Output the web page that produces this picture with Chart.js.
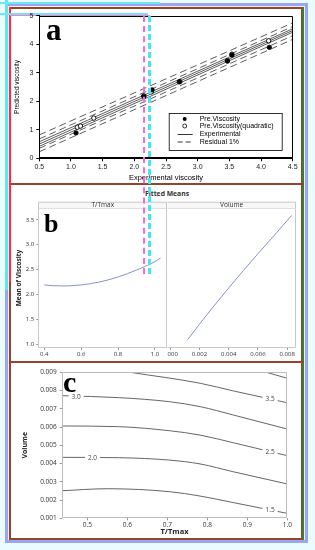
<!DOCTYPE html>
<html><head><meta charset="utf-8">
<script src="https://cdn.jsdelivr.net/npm/chart.js@4.4.1/dist/chart.umd.min.js"></script>
<style>
html,body{margin:0;padding:0;}
body{width:315px;height:550px;position:relative;overflow:hidden;background:#eafcff;font-family:"Liberation Sans",Arial,sans-serif;}
.abs{position:absolute;box-sizing:border-box;}
canvas{position:absolute;}
.lbl{position:absolute;font-family:"Liberation Serif","DejaVu Serif",serif;font-weight:bold;color:#000;line-height:1;}
</style></head><body>
<div class="abs" style="left:5px;top:3px;width:303px;height:540px;border:3px solid #98a8ee;background:#fde9f5;"></div>
<div class="abs" style="left:9px;top:7px;width:294px;height:533px;border:2px solid #93442a;background:#fff;"></div>
<div class="abs" style="left:302px;top:7px;width:2px;height:533px;background:#3f7d2e;"></div>
<div class="abs" style="left:9px;top:183px;width:295px;height:2px;background:#93442a;"></div>
<div class="abs" style="left:9px;top:361px;width:295px;height:2px;background:#93442a;"></div>
<div class="abs" style="left:9px;top:7px;width:2px;height:275px;background:#ff2a4a;"></div>
<div class="abs" style="left:5px;top:0px;width:3px;height:290px;background:#5fe6ee;"></div>
<div class="abs" style="left:0px;top:2px;width:160px;height:2px;background:#6ee8f0;"></div>
<div class="abs" style="left:0px;top:13px;width:148px;height:2px;background:#6ee8f0;"></div>
<div class="abs" style="left:10px;top:15px;width:140px;height:1px;background:#ff7ad0;"></div>

<canvas id="ca" width="293" height="175" style="left:10px;top:9px;"></canvas>
<div class="lbl" style="left:46px;top:14px;font-size:31px;">a</div>

<div class="abs" style="left:0;top:189px;width:334px;text-align:center;font:bold 6.8px 'Open Sans',sans-serif;color:#333;">Fitted Means</div>
<canvas id="cb1" width="158" height="177" style="left:10px;top:185px;"></canvas>
<canvas id="cb2" width="136" height="177" style="left:167px;top:185px;"></canvas>
<div class="lbl" style="left:44px;top:211px;font-size:26px;">b</div>

<canvas id="cc" width="293" height="176" style="left:10px;top:363px;"></canvas>
<div class="lbl" style="left:63px;top:367px;font-size:30px;">c</div>

<div class="abs" style="left:143px;top:16px;width:0;height:258px;border-left:2px dashed #ff66dd;"></div>
<div class="abs" style="left:148px;top:16px;width:0;height:258px;border-left:3px dashed #44e6f0;"></div>

<script>
// ---------- data: panel a ----------
const aXTicks=[0.5,1,1.5,2,2.5,3,3.5,4,4.5];
const aYTicks=[0,1,2,3,4,5];
const preX=[1.08,2.15,2.28,2.71,3.47,3.54,4.13];
const preY=[0.89,2.17,2.40,2.68,3.41,3.62,3.89];
const quadX=[1.10,1.15,1.36,2.15,2.27,2.72,3.47,3.54,4.12];
const quadY=[1.09,1.13,1.41,2.19,2.33,2.69,3.42,3.65,4.12];
const lineX=[0.5,4.5];
const expY=[0.50,4.48];
const fitHiY=[0.58,4.54];
const fitLoY=[0.42,4.42];
const resHiY=[0.82,4.75];
const resHi2Y=[0.68,4.62];
const resLo2Y=[0.35,4.30];
const resLoY=[0.23,4.17];
const aLegend=['Pre.Viscosity','Pre.Viscosity(quadratic)','Experimental','Residual 1%'];

// ---------- data: panel b ----------
const bYTicks=[1.0,1.5,2.0,2.5,3.0,3.5];
const bLeftTicks=[0.4,0.6,0.8,1.0];
const bRightTicks=[0,0.002,0.004,0.006,0.008];
const tX=[0.40,0.45,0.50,0.55,0.60,0.70,0.80,0.90,1.00,1.03];
const tY=[2.19,2.175,2.17,2.175,2.19,2.25,2.35,2.49,2.66,2.73];
const vX=[0.0012,0.002,0.003,0.004,0.005,0.006,0.007,0.0083];
const vY=[1.09,1.40,1.77,2.13,2.48,2.82,3.15,3.59];

// ---------- data: panel c ----------
const cXTicks=[0.5,0.6,0.7,0.8,0.9,1.0];
const cYTicks=[0.001,0.002,0.003,0.004,0.005,0.006,0.007,0.008,0.009];
const contourLevels=['1.5','2.0','2.5','3.0','3.5','4.0'];
const c15X=[0.436,0.55,0.705,0.782,0.865,1.0], c15Y=[0.00251,0.00262,0.00246,0.00222,0.00186,0.00127];
const c20X=[0.436,0.58,0.705,0.782,0.865,1.0], c20Y=[0.00434,0.00432,0.00419,0.00398,0.00355,0.00288];
const c25X=[0.436,0.58,0.705,0.782,0.865,1.0], c25Y=[0.00606,0.00602,0.00580,0.00556,0.00514,0.00443];
const c30X=[0.436,0.58,0.705,0.782,0.865,1.0], c30Y=[0.00772,0.00761,0.00739,0.00712,0.00666,0.00589];
const c35X=[0.607,0.782,0.865,1.0], c35Y=[0.00900,0.00840,0.00798,0.00733];
const c40X=[0.948,1.0], c40Y=[0.00900,0.00867];
const cLabelX=[0.957,0.513,0.957,0.472,0.957];
const cLabelLevel=['1.5','2.0','2.5','3.0','3.5'];

const zip=(xs,ys)=>xs.map((x,i)=>({x,y:ys[i]}));
const setTicks=arr=>s=>{s.ticks=arr.map(v=>({value:v}));};
const fitH=h=>s=>{s.height=h;s.paddingLeft=0;s.paddingRight=0;s.paddingTop=0;s.paddingBottom=0;};
const fitW=w=>s=>{s.width=w;s.paddingLeft=0;s.paddingRight=0;s.paddingTop=0;s.paddingBottom=0;};

const boxPlugin={id:'box',afterDatasetsDraw(c,a,o){
  if(!o||!o.color)return;const ctx=c.ctx,r=c.chartArea;
  ctx.save();ctx.strokeStyle=o.color;ctx.lineWidth=o.width||1;
  const L=Math.round(r.left)+0.5,T=Math.round(r.top)+0.5,R=Math.round(r.right)-0.5,B=Math.round(r.bottom)-0.5;
  ctx.beginPath();
  ctx.moveTo(R,T);ctx.lineTo(R,B);ctx.lineTo(L,B);
  if(!o.noLeft){ctx.lineTo(L,T);}else{ctx.moveTo(L,T);}
  ctx.lineTo(R,T);ctx.stroke();
  if(o.header){
    const h=o.header.h;ctx.fillStyle=o.header.fill;ctx.fillRect(L,T-h,R-L,h);
    ctx.beginPath();ctx.moveTo(L,T-h);ctx.lineTo(R,T-h);ctx.lineTo(R,T);
    if(!o.noLeft){ctx.moveTo(L,T-h);ctx.lineTo(L,T);}
    ctx.stroke();
    ctx.fillStyle='#333';ctx.font=o.header.font;ctx.textAlign='center';ctx.textBaseline='middle';
    ctx.fillText(o.header.text,(r.left+r.right)/2,T-h/2);
  }
  ctx.restore();}};

const legendPlugin={id:'alegend',afterDraw(c,a,o){
  if(!o||!o.items)return;const ctx=c.ctx,r=c.chartArea;
  const L=r.right-o.right-o.w,T=r.bottom-o.bottom-o.h;
  ctx.save();ctx.strokeStyle='#000';ctx.lineWidth=0.8;ctx.fillStyle='#fff';
  ctx.fillRect(L,T,o.w,o.h);ctx.strokeRect(L+0.5,T+0.5,o.w,o.h);
  ctx.font='7px "Liberation Sans",Arial,sans-serif';ctx.textBaseline='middle';ctx.textAlign='left';
  o.items.forEach((it,i)=>{
    const y=T+o.rows[i];const sx=L+9,ex=L+24,cx=L+16;
    ctx.strokeStyle='#000';ctx.fillStyle='#000';ctx.lineWidth=0.8;
    if(i===0){ctx.beginPath();ctx.arc(cx,y,2,0,Math.PI*2);ctx.fill();}
    else if(i===1){ctx.beginPath();ctx.arc(cx,y,2,0,Math.PI*2);ctx.fillStyle='#fff';ctx.fill();ctx.stroke();}
    else{ctx.beginPath();ctx.setLineDash(i===3?[5,3]:[]);ctx.moveTo(sx,y);ctx.lineTo(ex,y);ctx.stroke();ctx.setLineDash([]);}
    ctx.fillStyle='#000';ctx.fillText(it,L+31,y);
  });
  ctx.restore();}};

const contourLabelPlugin={id:'clabels',afterDatasetsDraw(c,a,o){
  if(!o||!o.xs)return;const ctx=c.ctx,xs=c.scales.x,ys=c.scales.y;
  ctx.save();ctx.font='6.5px "Open Sans",sans-serif';ctx.textAlign='center';ctx.textBaseline='middle';
  o.xs.forEach((xv,i)=>{
    const ds=c.data.datasets.find(d=>d.label===o.levels[i]);
    const pts=ds.data;let yv=pts[0].y;
    for(let k=0;k<pts.length-1;k++){if(xv>=pts[k].x&&xv<=pts[k+1].x){const t=(xv-pts[k].x)/(pts[k+1].x-pts[k].x);yv=pts[k].y+t*(pts[k+1].y-pts[k].y);}}
    const px=xs.getPixelForValue(xv),py=ys.getPixelForValue(yv);
    const w=ctx.measureText(o.levels[i]).width+6;
    ctx.fillStyle='#fff';ctx.fillRect(px-w/2,py-3,w,6);
    ctx.fillStyle='#444';ctx.fillText(o.levels[i],px,py+0.5);
  });
  ctx.restore();}};

Chart.register(boxPlugin,legendPlugin,contourLabelPlugin);
Chart.defaults.font.family='"Liberation Sans",Arial,sans-serif';

function axisCommon(){return{grid:{display:true,drawOnChartArea:false,tickLength:3,tickColor:'#000'},border:{color:'#000'}};}

// ---------- chart a ----------
const solid={showLine:true,pointRadius:0,borderColor:'#333',borderWidth:0.8,fill:false};
const dash={showLine:true,pointRadius:0,borderColor:'#333',borderWidth:0.8,borderDash:[7,4],fill:false};
new Chart(document.getElementById('ca'),{
  type:'scatter',
  data:{datasets:[
    {label:aLegend[0],data:zip(preX,preY),backgroundColor:'#000',borderColor:'#000',pointRadius:2.2,borderWidth:0.8},
    {label:aLegend[1],data:zip(quadX,quadY),backgroundColor:'#fff',borderColor:'#000',pointRadius:2.2,borderWidth:0.9},
    Object.assign({label:aLegend[2],data:zip(lineX,expY)},solid),
    Object.assign({label:'fitHi',data:zip(lineX,fitHiY)},solid),
    Object.assign({label:'fitLo',data:zip(lineX,fitLoY)},solid),
    Object.assign({label:aLegend[3],data:zip(lineX,resHiY)},dash),
    Object.assign({label:'r2',data:zip(lineX,resHi2Y)},dash),
    Object.assign({label:'r3',data:zip(lineX,resLo2Y)},dash),
    Object.assign({label:'r4',data:zip(lineX,resLoY)},dash)
  ]},
  options:{responsive:false,animation:false,events:[],
    layout:{padding:{top:6.7,right:10.3,left:0,bottom:0}},
    plugins:{legend:{display:false},tooltip:{enabled:false},box:{color:'#000'},
      alegend:{items:aLegend,w:113,h:37,right:11,bottom:8.3,rows:[6,13,21.5,29]}},
    scales:{
      x:Object.assign(axisCommon(),{type:'linear',min:0.5,max:4.5,afterBuildTicks:setTicks(aXTicks),afterFit:fitH(25.7),
        ticks:{callback:v=>v.toFixed(1),font:{size:7},color:'#222',padding:2,maxRotation:0,autoSkip:false},
        title:{display:true,text:'Experimental viscosity',font:{size:7.5},color:'#000',padding:{top:0,bottom:1.5}}}),
      y:Object.assign(axisCommon(),{type:'linear',min:0,max:5,afterBuildTicks:setTicks(aYTicks),afterFit:fitW(29.3),
        ticks:{callback:v=>String(v),font:{size:7},color:'#222',padding:3},
        title:{display:true,text:'Predicted viscosity',font:{size:6.5},color:'#000',padding:{top:3,bottom:0}}})
    }}
});

// ---------- chart b ----------
const bAxis=()=>({grid:{display:true,drawOnChartArea:false,tickLength:2,tickColor:'#999'},border:{display:false}});
const bLine={showLine:true,pointRadius:0,borderColor:'#8890d0',borderWidth:1,tension:0.4,cubicInterpolationMode:'monotone'};
new Chart(document.getElementById('cb1'),{
  type:'scatter',
  data:{datasets:[Object.assign({label:'T/Tmax',data:zip(tX,tY)},bLine)]},
  options:{responsive:false,animation:false,events:[],
    layout:{padding:{top:23,right:0.7,left:0,bottom:0}},
    plugins:{legend:{display:false},tooltip:{enabled:false},box:{color:'#c8c8c8',header:{h:6.3,fill:'#f7f7f7',text:'T/Tmax',font:'6.5px "Open Sans",sans-serif'}}},
    scales:{
      x:Object.assign(bAxis(),{type:'linear',min:0.368,max:1.067,afterBuildTicks:setTicks(bLeftTicks),afterFit:fitH(14),
        ticks:{callback:v=>v.toFixed(1),font:{size:6,family:'"Open Sans",sans-serif'},color:'#333',padding:1,maxRotation:0,autoSkip:false}}),
      y:Object.assign(bAxis(),{type:'linear',min:0.92,max:3.74,afterBuildTicks:setTicks(bYTicks),afterFit:fitW(28.3),
        ticks:{callback:v=>v.toFixed(1),font:{size:6,family:'"Open Sans",sans-serif'},color:'#333',padding:2},
        title:{display:true,text:'Mean of Viscosity',font:{size:6.5,weight:'bold',family:'"Open Sans",sans-serif'},color:'#222',padding:{top:5.5,bottom:0}}})
    }}
});
new Chart(document.getElementById('cb2'),{
  type:'scatter',
  data:{datasets:[Object.assign({label:'Volume',data:zip(vX,vY)},bLine)]},
  options:{responsive:false,animation:false,events:[],
    layout:{padding:{top:23,right:7,left:0.3,bottom:0}},
    plugins:{legend:{display:false},tooltip:{enabled:false},box:{color:'#c8c8c8',noLeft:true,header:{h:6.3,fill:'#f7f7f7',text:'Volume',font:'6.5px "Open Sans",sans-serif'}}},
    scales:{
      x:Object.assign(bAxis(),{type:'linear',min:-0.0002,max:0.0086,afterBuildTicks:setTicks(bRightTicks),afterFit:fitH(14),
        ticks:{callback:v=>v.toFixed(3),font:{size:6,family:'"Open Sans",sans-serif'},color:'#333',padding:1,maxRotation:0,autoSkip:false}}),
      y:{type:'linear',display:false,min:0.92,max:3.74}
    }}
});

// ---------- chart c ----------
const cLine={showLine:true,pointRadius:0,borderColor:'#555',borderWidth:0.9,tension:0.4,cubicInterpolationMode:'monotone'};
new Chart(document.getElementById('cc'),{
  type:'scatter',
  data:{datasets:[
    Object.assign({label:contourLevels[0],data:zip(c15X,c15Y)},cLine),
    Object.assign({label:contourLevels[1],data:zip(c20X,c20Y)},cLine),
    Object.assign({label:contourLevels[2],data:zip(c25X,c25Y)},cLine),
    Object.assign({label:contourLevels[3],data:zip(c30X,c30Y)},cLine),
    Object.assign({label:contourLevels[4],data:zip(c35X,c35Y)},cLine),
    Object.assign({label:contourLevels[5],data:zip(c40X,c40Y)},cLine)
  ]},
  options:{responsive:false,animation:false,events:[],
    layout:{padding:{top:9.3,right:15.7,left:0,bottom:0}},
    plugins:{legend:{display:false},tooltip:{enabled:false},box:{color:'#bbb'},clabels:{xs:cLabelX,levels:cLabelLevel}},
    scales:{
      x:Object.assign(bAxis(),{type:'linear',min:0.436,max:1.0,afterBuildTicks:setTicks(cXTicks),afterFit:fitH(20.7),
        ticks:{callback:v=>v.toFixed(1),font:{size:6.5,family:'"Open Sans",sans-serif'},color:'#333',padding:1,maxRotation:0,autoSkip:false},
        title:{display:true,text:'T/Tmax',font:{size:7.5,weight:'bold',family:'"Open Sans",sans-serif'},color:'#222',padding:{top:0,bottom:2.5}}}),
      y:Object.assign(bAxis(),{type:'linear',min:0.001,max:0.009,afterBuildTicks:setTicks(cYTicks),afterFit:fitW(51.7),
        ticks:{callback:v=>v.toFixed(3),font:{size:6.5,family:'"Open Sans",sans-serif'},color:'#333',padding:3},
        title:{display:true,text:'Volume',font:{size:7,weight:'bold',family:'"Open Sans",sans-serif'},color:'#222',padding:{top:10.5,bottom:0}}})
    }}
});
</script>
</body></html>
